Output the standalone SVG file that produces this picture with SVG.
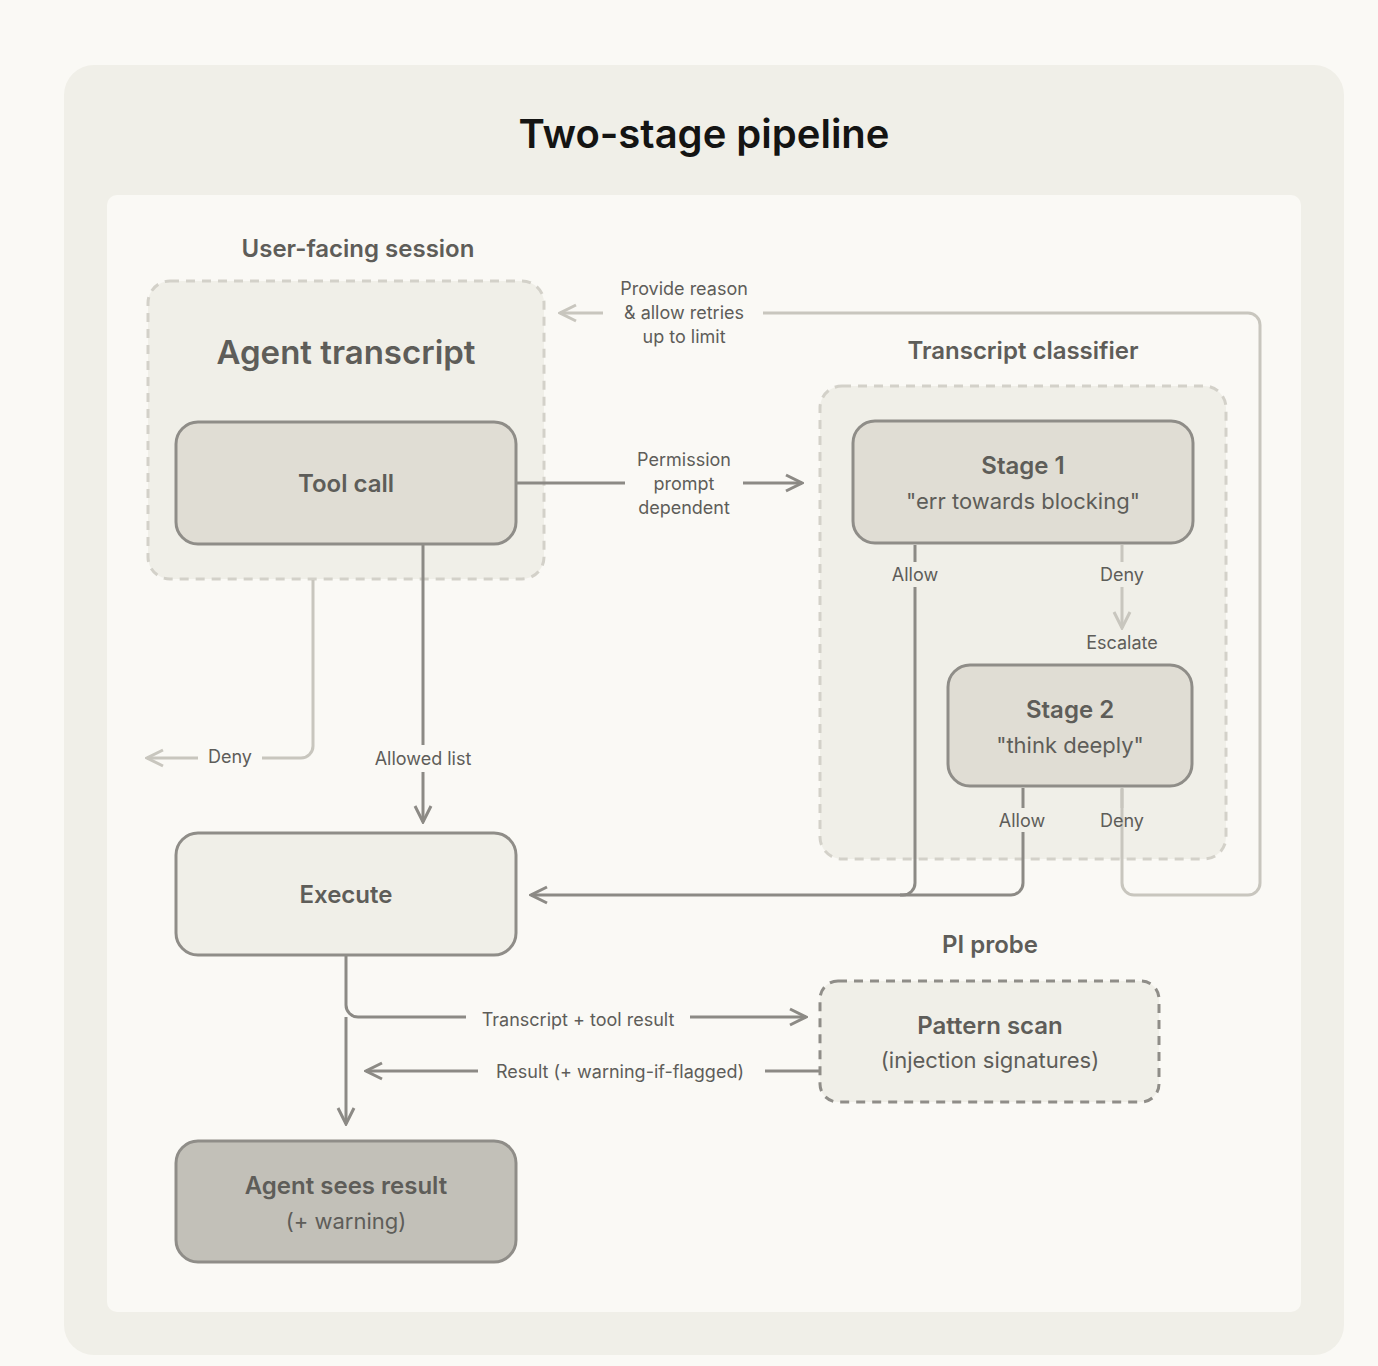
<svg xmlns="http://www.w3.org/2000/svg" width="1378" height="1366" viewBox="0 0 1378 1366">
<style>
text{font-family:Inter,"Noto Sans",sans-serif;text-anchor:middle;fill:#5e5d59}
.h{font-size:27px;font-weight:600}
.t{font-size:24px;font-weight:600}
.s{font-size:22px}
.l{font-size:18px}
.grp{fill:#f0efe8;stroke:#d3d1c9;stroke-width:3;stroke-dasharray:9 7}
.node{stroke:#8f8d88;stroke-width:3}
.dk{fill:none;stroke:#8c8a85;stroke-width:3}
.lt{fill:none;stroke:#c8c6be;stroke-width:3}
</style>
<defs>
<marker id="ad" viewBox="0 0 20 20" refX="18" refY="10" markerWidth="20" markerHeight="20" markerUnits="userSpaceOnUse" orient="auto"><path d="M2 2L18 10L2 18" fill="none" stroke="#8c8a85" stroke-width="3"/></marker>
<marker id="al" viewBox="0 0 20 20" refX="18" refY="10" markerWidth="20" markerHeight="20" markerUnits="userSpaceOnUse" orient="auto"><path d="M2 2L18 10L2 18" fill="none" stroke="#c8c6be" stroke-width="3"/></marker>
</defs>
<rect width="1378" height="1366" fill="#faf9f5"/>
<rect x="64" y="65" width="1280" height="1290" rx="30" fill="#f0efe8"/>
<text x="704" y="148" style="font-size:40px;font-weight:600;fill:#141413">Two-stage pipeline</text>
<rect x="107" y="195" width="1194" height="1117" rx="10" fill="#faf9f5"/>

<g id="session"><text x="358" y="257" class="t">User-facing session</text>
<rect x="148" y="281" width="396" height="298" rx="22" class="grp"/>
<text x="346" y="364" style="font-size:33px;font-weight:600">Agent transcript</text></g>
<g id="classifier"><text x="1023" y="359" class="t">Transcript classifier</text>
<rect x="820" y="386" width="406" height="473" rx="22" class="grp"/></g>
<g id="pi"><text x="990" y="953" class="t">PI probe</text></g>

<g id="connectors">
<path d="M516 483H625M743 483H802" class="dk" marker-end="url(#ad)"/>
<path d="M763 313H1248a12 12 0 0 1 12 12V883a12 12 0 0 1-12 12H1134a12 12 0 0 1-12-12V789" class="lt"/>
<path d="M603 313H560" class="lt" marker-end="url(#al)"/>
<path d="M313 580V746a12 12 0 0 1-12 12H262M198 758H147" class="lt" marker-end="url(#al)"/>
<path d="M423 545V745M423 772V822" class="dk" marker-end="url(#ad)"/>
<path d="M915 545V562M915 587V883a12 12 0 0 1-12 12H531" class="dk" marker-end="url(#ad)"/>
<path d="M1023 788V808M1023 832V883a12 12 0 0 1-12 12H900" class="dk"/>
<path d="M1122 545V562M1122 587V628" class="lt" marker-end="url(#al)"/>
<path d="M1122 788V808" class="lt"/>
<path d="M346 956V1005a12 12 0 0 0 12 12H466M690 1017H806" class="dk" marker-end="url(#ad)"/>
<path d="M346 1017V1124" class="dk" marker-end="url(#ad)"/>
<path d="M820 1071H765M478 1071H366" class="dk" marker-end="url(#ad)"/>
<text x="684" y="295" class="l">Provide reason</text>
<text x="684" y="319" class="l">&amp; allow retries</text>
<text x="684" y="343" class="l">up to limit</text>
<text x="684" y="466" class="l">Permission</text>
<text x="684" y="490" class="l">prompt</text>
<text x="684" y="514" class="l">dependent</text>
<text x="230" y="763" class="l">Deny</text>
<text x="423" y="765" class="l">Allowed list</text>
<text x="915" y="581" class="l">Allow</text>
<text x="1122" y="581" class="l">Deny</text>
<text x="1122" y="649" class="l">Escalate</text>
<text x="1022" y="827" class="l">Allow</text>
<text x="1122" y="827" class="l">Deny</text>
<text x="578" y="1026" class="l">Transcript + tool result</text>
<text x="620" y="1078" class="l">Result (+ warning-if-flagged)</text>
</g>

<g id="toolcall"><rect x="176" y="422" width="340" height="122" rx="22" fill="#e0ddd4" class="node"/>
<text x="346" y="492" class="t">Tool call</text></g>
<g id="stage1"><rect x="853" y="421" width="340" height="122" rx="22" fill="#e0ddd4" class="node"/>
<text x="1023" y="474" class="t">Stage 1</text><text x="1023" y="509" class="s">"err towards blocking"</text></g>
<g id="stage2"><rect x="948" y="665" width="244" height="121" rx="22" fill="#e0ddd4" class="node"/>
<text x="1070" y="718" class="t">Stage 2</text><text x="1070" y="753" class="s">"think deeply"</text></g>
<g id="execute"><rect x="176" y="833" width="340" height="122" rx="22" fill="#f0efe8" class="node"/>
<text x="346" y="903" class="t">Execute</text></g>
<g id="pattern"><rect x="820" y="981" width="339" height="121" rx="18" fill="#f0efe8" stroke="#8f8d88" stroke-width="3" stroke-dasharray="9 7"/>
<text x="990" y="1034" class="t">Pattern scan</text><text x="990" y="1068" class="s">(injection signatures)</text></g>
<g id="result"><rect x="176" y="1141" width="340" height="121" rx="22" fill="#c2c0b8" class="node"/>
<text x="346" y="1194" class="t">Agent sees result</text><text x="346" y="1229" class="s">(+ warning)</text></g>
</svg>
